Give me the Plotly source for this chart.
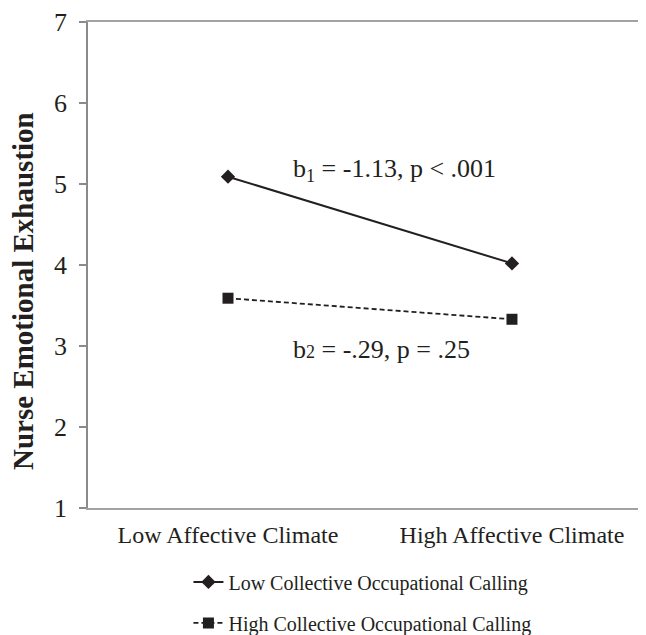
import plotly.graph_objects as go

categories = ["Low Affective Climate", "High Affective Climate"]
low_calling = [5.09, 4.02]
high_calling = [3.59, 3.33]
series_names = ["Low Collective Occupational Calling", "High Collective Occupational Calling"]
y_ticks = [1, 2, 3, 4, 5, 6, 7]
y_title = "Nurse Emotional Exhaustion"

INK = "#231f20"
FONT = "Liberation Serif, Times New Roman, serif"

fig = go.Figure()
fig.add_trace(go.Scatter(
    x=categories, y=low_calling, name=series_names[0], mode="lines+markers",
    line=dict(color=INK, width=2), marker=dict(symbol="diamond", size=11, color=INK),
    legendgroup="a"))
fig.add_trace(go.Scatter(
    x=categories, y=high_calling, name=series_names[1], mode="lines+markers",
    line=dict(color=INK, width=1.8, dash="5px,3px"), marker=dict(symbol="square", size=11, color=INK),
    legendgroup="b"))

fig.add_annotation(x=0.585, y=5.17, xref="x", yref="y", showarrow=False,
                   text="b<sub>1</sub> = -1.13, p &lt; .001",
                   font=dict(family=FONT, size=26, color=INK))
fig.add_annotation(x=0.542, y=2.96, xref="x", yref="y", showarrow=False,
                   text="b<span style='font-size:18px'>2</span> = -.29, p = .25",
                   font=dict(family=FONT, size=26, color=INK))
fig.add_annotation(x=-0.1165, y=0.4465, xref="paper", yref="paper", showarrow=False,
                   xanchor="center", yanchor="middle",
                   textangle=-90, text="<b>" + y_title + "</b>",
                   font=dict(family=FONT, size=29, color=INK))

fig.update_layout(
    width=638, height=627,
    margin=dict(l=80, r=0, t=14, b=127, autoexpand=False),
    paper_bgcolor="white", plot_bgcolor="white",
    font=dict(family=FONT, color=INK),
    showlegend=True,
    legend=dict(x=0.180, y=-0.112, xanchor="left", yanchor="top",
                font=dict(family=FONT, size=20, color=INK),
                tracegroupgap=12, traceorder="grouped", bgcolor="rgba(0,0,0,0)"),
    xaxis=dict(type="category", range=[-0.493, 1.472], showgrid=False, zeroline=False,
               showline=True, linecolor="#a3a3a3", linewidth=1.5, mirror=True,
               ticks="", ticklabelstandoff=4, automargin=False,
               tickfont=dict(family=FONT, size=24, color=INK)),
    yaxis=dict(range=[1, 7], tickvals=y_ticks, showgrid=False, zeroline=False,
               showline=True, linecolor="#8a8a8a", linewidth=1.5,
               ticks="outside", ticklen=7, tickcolor="#8a8a8a", tickwidth=1.5,
               ticklabelstandoff=7, automargin=False,
               tickfont=dict(family=FONT, size=26, color=INK)),
)

fig.write_html("out.html")
